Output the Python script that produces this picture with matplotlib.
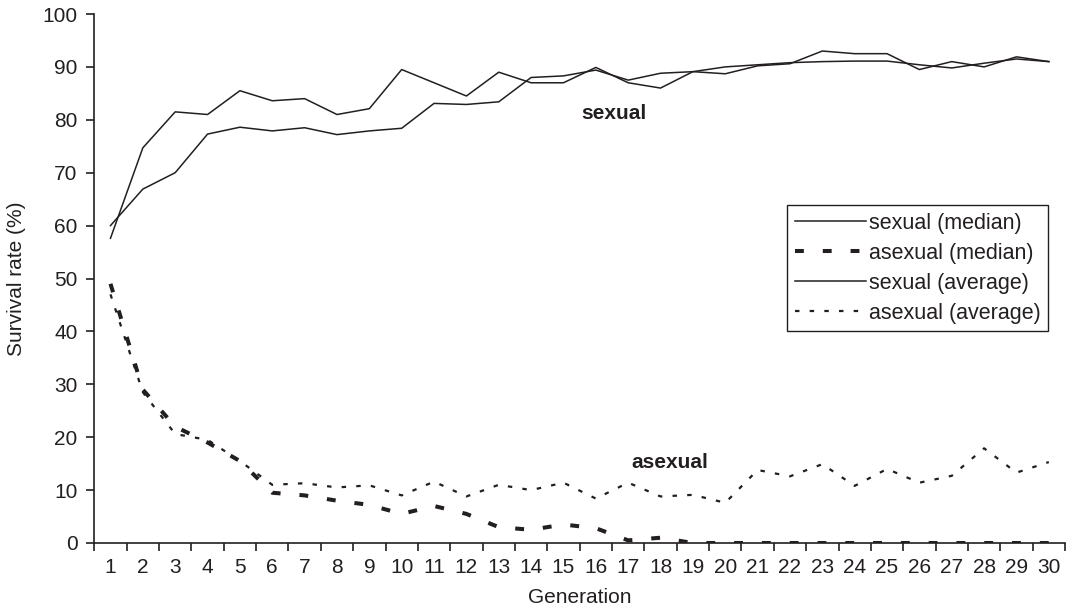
import matplotlib
matplotlib.use("Agg")
import matplotlib.pyplot as plt
from matplotlib.ticker import FixedLocator, NullFormatter

plt.rcParams['font.family'] = ['Liberation Sans', 'DejaVu Sans']

generations = list(range(1, 31))
gen_labels = [str(g) for g in generations]

sexual_median = [57.6, 74.7, 81.5, 81.0, 85.5, 83.6, 84.0, 81.0, 82.1, 89.5,
                 87.0, 84.5, 89.0, 87.0, 87.0, 89.9, 87.0, 86.0, 89.1, 88.7,
                 90.2, 90.6, 93.0, 92.5, 92.5, 89.5, 91.0, 90.0, 91.9, 91.0]
asexual_median = [49.0, 29.0, 22.0, 19.0, 15.5, 9.5, 9.0, 8.0, 7.2, 5.5,
                  7.0, 5.5, 3.0, 2.5, 3.5, 2.8, 0.5, 1.0, 0.0, 0.0,
                  0.0, 0.0, 0.0, 0.0, 0.0, 0.0, 0.0, 0.0, 0.0, 0.0]
sexual_average = [60.0, 66.9, 70.0, 77.3, 78.6, 77.9, 78.5, 77.2, 77.9, 78.4,
                  83.1, 82.9, 83.4, 88.0, 88.3, 89.4, 87.5, 88.8, 89.1, 90.0,
                  90.4, 90.8, 91.0, 91.1, 91.1, 90.4, 89.8, 90.7, 91.5, 91.0]
asexual_average = [47.0, 28.5, 20.6, 19.5, 15.5, 11.0, 11.3, 10.5, 10.9, 9.0,
                   11.6, 8.8, 11.0, 10.0, 11.4, 8.4, 11.4, 8.8, 9.1, 7.6,
                   13.8, 12.6, 14.9, 10.8, 14.0, 11.4, 12.7, 17.9, 13.3, 15.3]

ink = '#231f20'
fs = 15

fig = plt.figure(figsize=(10.69, 6.13), dpi=100)
ax = fig.add_axes([94.3 / 1069, (613 - 543) / 613, (1065 - 94.3) / 1069, (543 - 14) / 613])

ax.plot(generations, sexual_median, color=ink, lw=1.1, label='sexual (median)')
ax.plot(generations, asexual_median, color=ink, lw=2.9, linestyle=(0, (2.2, 4.7)),
        label='asexual (median)')
ax.plot(generations, sexual_average, color=ink, lw=1.1, label='sexual (average)')
ax.plot(generations, asexual_average, color=ink, lw=1.6, linestyle=(0, (2.0, 4.6)),
        label='asexual (average)')

ax.set_xlim(0.5, 30.5)
ax.set_ylim(0, 100)
ax.set_yticks(range(0, 101, 10))

# ticks at category boundaries, labels at category centres
ax.xaxis.set_major_locator(FixedLocator([g - 0.5 for g in generations] + [30.5]))
ax.xaxis.set_major_formatter(NullFormatter())
ax.xaxis.set_minor_locator(FixedLocator(generations))
ax.set_xticklabels(gen_labels, minor=True)
ax.tick_params(axis='x', which='major', length=6, width=1.2, color=ink, direction='out')
ax.tick_params(axis='x', which='minor', length=0, pad=11, labelsize=fs, labelcolor=ink)
ax.tick_params(axis='y', length=6, width=1.2, color=ink, direction='out', pad=6,
               labelsize=fs, labelcolor=ink)

for s in ['top', 'right']:
    ax.spines[s].set_visible(False)
for s in ['left', 'bottom']:
    ax.spines[s].set_color(ink)
    ax.spines[s].set_linewidth(1.2)

ax.set_xlabel('Generation', fontsize=fs, color=ink, labelpad=8)
ax.set_ylabel('Survival rate (%)', fontsize=fs, color=ink, labelpad=12)

ax.text(16.56, 81.1, 'sexual', fontsize=fs, fontweight='bold', color=ink,
        ha='center', va='center')
ax.text(18.29, 15.2, 'asexual', fontsize=fs, fontweight='bold', color=ink,
        ha='center', va='center')

leg = ax.legend(loc='upper left', bbox_to_anchor=(0.714, 0.639), fontsize=15.5,
                frameon=True, fancybox=False, shadow=False, framealpha=1,
                edgecolor=ink, handlelength=3.3, handletextpad=0.15,
                labelspacing=0.42, borderpad=0.35, borderaxespad=0)
leg.get_frame().set_linewidth(1.0)
for t in leg.get_texts():
    t.set_color(ink)

fig.savefig('out.png', dpi=100)
